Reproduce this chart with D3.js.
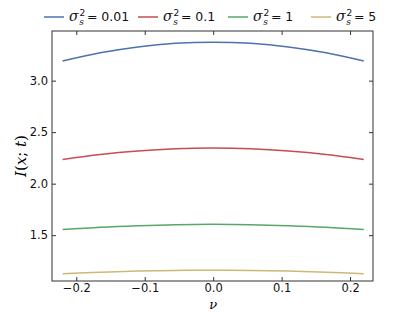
<!DOCTYPE html>
<html>
<head>
<meta charset="utf-8">
<script src="https://cdn.jsdelivr.net/npm/d3@7"></script>
<style>
body { margin: 0; background: #fff; }
text { font-family: "DejaVu Sans", sans-serif; }
.math { font-family: "DejaVu Serif", "Liberation Serif", serif; font-style: italic; }
</style>
</head>
<body>
<svg id="chart" width="415" height="312"></svg>
<script>
// values
var nu = [-0.22, -0.165, -0.11, -0.055, 0, 0.055, 0.11, 0.165, 0.22];
var seriesLabels = ["0.01", "0.1", "1", "5"];
var blueVals   = [3.19, 3.27, 3.327, 3.362, 3.373, 3.362, 3.327, 3.27, 3.19];
var redVals    = [2.235, 2.283, 2.317, 2.338, 2.345, 2.338, 2.317, 2.283, 2.235];
var greenVals  = [1.555, 1.577, 1.592, 1.602, 1.605, 1.602, 1.592, 1.577, 1.555];
var yellowVals = [1.125, 1.14, 1.151, 1.158, 1.16, 1.158, 1.151, 1.14, 1.125];
var colors = ["#4c72b0", "#c44e52", "#55a868", "#ccb974"];
var xTicks = [-0.2, -0.1, 0.0, 0.1, 0.2];
var yTicks = [1.5, 2.0, 2.5, 3.0];

var allSeries = [blueVals, redVals, greenVals, yellowVals];

var svg = d3.select("#chart");
var pLeft = 52, pRight = 373, pTop = 31, pBottom = 281;

var x = d3.scaleLinear().domain([-0.2355, 0.2335]).range([pLeft, pRight]);
var y = d3.scaleLinear().domain([1.055, 3.482]).range([pBottom, pTop]);

// lines
var line = d3.line()
    .x(function(d, i){ return x(nu[i]); })
    .y(function(d){ return y(d); })
    .curve(d3.curveCatmullRom);

var g = svg.append("g");
for(var s = 0; s < allSeries.length; s++)
{
    g.append("path")
     .datum(allSeries[s])
     .attr("d", line)
     .attr("fill", "none")
     .attr("stroke", colors[s])
     .attr("stroke-width", 1.5);
}

// axes, ticks inside on all sides
var fmt = function(d){ return d3.format(".1f")(d).replace("-", "\u2212"); };
svg.append("g").attr("transform", "translate(0," + pBottom + ")")
   .call(d3.axisBottom(x).tickValues(xTicks).tickSizeInner(-4).tickSizeOuter(0).tickPadding(3).tickFormat(fmt));
svg.append("g").attr("transform", "translate(0," + pTop + ")")
   .call(d3.axisTop(x).tickValues(xTicks).tickSizeInner(-4).tickSizeOuter(0).tickFormat(""));
svg.append("g").attr("transform", "translate(" + pLeft + ",0)")
   .call(d3.axisLeft(y).tickValues(yTicks).tickSizeInner(-4).tickSizeOuter(0).tickPadding(4).tickFormat(fmt));
svg.append("g").attr("transform", "translate(" + pRight + ",0)")
   .call(d3.axisRight(y).tickValues(yTicks).tickSizeInner(-4).tickSizeOuter(0).tickFormat(""));

svg.selectAll(".domain").remove();
svg.selectAll(".tick line").attr("stroke", "#333");
svg.selectAll(".tick text").attr("font-size", "11.5px").attr("fill", "#111")
   .style("font-family", "'DejaVu Sans', sans-serif");

svg.append("rect")
   .attr("x", pLeft).attr("y", pTop)
   .attr("width", pRight - pLeft).attr("height", pBottom - pTop)
   .attr("fill", "none").attr("stroke", "#333").attr("stroke-width", 1);

// axis labels
svg.append("text").attr("class", "math")
   .attr("x", x(0)).attr("y", 309)
   .attr("text-anchor", "middle").attr("font-size", "13px")
   .text("\u03bd");

var yl = svg.append("text").attr("class", "math")
   .attr("transform", "translate(26," + ((pTop + pBottom) / 2) + ") rotate(-90)")
   .attr("text-anchor", "middle").attr("font-size", "15px");
yl.append("tspan").text("I");
yl.append("tspan").style("font-style", "normal").text("(");
yl.append("tspan").text("x");
yl.append("tspan").style("font-style", "normal").text("; ");
yl.append("tspan").text("t");
yl.append("tspan").style("font-style", "normal").text(")");

// legend
var legX = [44, 138, 228, 311];
for(var k = 0; k < seriesLabels.length; k++)
{
    var lg = svg.append("g").attr("transform", "translate(" + legX[k] + ",17)");
    lg.append("line").attr("x1", 0).attr("x2", 20).attr("y1", 0).attr("y2", 0)
      .attr("stroke", colors[k]).attr("stroke-width", 1.5);
    var t = lg.append("text").attr("x", 25).attr("y", 4).attr("font-size", "12.5px").attr("fill", "#111");
    t.append("tspan").attr("class", "math").attr("font-size", "14px").text("\u03c3");
    t.append("tspan").attr("dx", 1).attr("dy", -5).attr("font-size", "9px").text("2");
    t.append("tspan").attr("class", "math").attr("dx", -6).attr("dy", 9).attr("font-size", "9px").text("s");
    t.append("tspan").attr("dx", 3).attr("dy", -4).text("= " + seriesLabels[k]);
}
</script>
</body>
</html>
